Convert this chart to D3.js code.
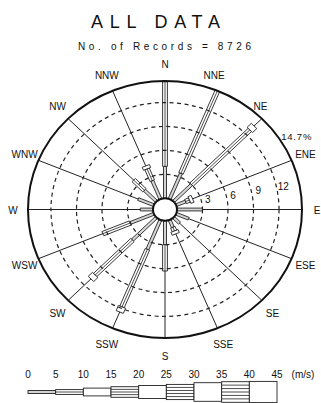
<!DOCTYPE html>
<html>
<head>
<meta charset="utf-8">
<script src="https://cdn.jsdelivr.net/npm/d3@7/dist/d3.min.js"></script>
<style>
  html, body { margin: 0; padding: 0; background: #fff; }
  svg { display: block; }
  text { font-family: "Liberation Sans", Arial, sans-serif; fill: #111; }
</style>
</head>
<body>
<svg id="chart" width="321" height="403"></svg>
<script>
// Wind rose: frequency (%) per direction, split by wind speed class
const directions = ["N","NNE","NE","ENE","E","ESE","SE","SSE","S","SSW","SW","WSW","W","WNW","NW","NNW"];
const speedClasses = ["0-5","5-10","10-15","15-20","20-25","25-30","30-35","35-40","40-45"];
const speedTicks = [0,5,10,15,20,25,30,35,40,45];
const ringValues = [3,6,9,12];
const maxPercent = 14.7;
const recordCount = 8726;

// percent of records in each speed class, one array per direction
const freq0to5   = [4.0, 3.5, 3.0, 1.2, 3.0, 1.6, 1.0, 1.0, 3.0, 4.0, 4.0, 3.0, 1.5, 2.0, 2.0, 2.5];
const freq5to10  = [10.6,11.2, 9.7, 0.5, 0.0, 0.0, 0.0, 0.5, 3.3, 7.8, 6.2, 3.5, 0.0, 0.0, 1.8, 1.6];
const freq10to15 = [0.0, 0.0, 0.7, 0.4, 0.0, 0.0, 0.0, 0.4, 0.0, 0.7, 0.7, 0.0, 0.0, 0.0, 0.0, 0.4];

const svg = d3.select("#chart");
const cx = 165, cy = 209.5, squash = 0.938;
const r = d3.scaleLinear().domain([0, maxPercent]).range([12, 137]);
const angle = d3.scalePoint().domain(directions).range([0, 2 * Math.PI * 15 / 16]);

// half widths and hatching of each speed class band
const halfW = [1.5, 2.4, 3.9, 5.3, 6.5, 7.6, 9.3, 10.3, 10.6];
const hatch = [0, 1, 0, 3, 0, 4, 0, 5, 0];
// small sideways nudges for a couple of compass labels
const labelShift = { NNE: -9, NE: -12 };

// point at radius rr along direction a, offset w sideways
function pt(rr, w, a) {
  const ux = Math.sin(a), uy = -Math.cos(a);
  const px = Math.cos(a), py = Math.sin(a);
  return [cx + rr * ux + w * px, cy + (rr * uy + w * py) * squash];
}

// spokes
const gSpokes = svg.append("g");
directions.forEach(d => {
  const a = angle(d);
  const p0 = pt(r(0), 0, a), p1 = pt(r(maxPercent), 0, a);
  gSpokes.append("line").attr("x1", p0[0]).attr("y1", p0[1]).attr("x2", p1[0]).attr("y2", p1[1])
    .attr("stroke", "#222").attr("stroke-width", 1);
});

// bars
const series = [freq0to5, freq5to10, freq10to15];
const gBars = svg.append("g");
directions.forEach((d, i) => {
  const a = angle(d);
  let acc = 0;
  series.forEach((s, k) => {
    const v = s[i];
    if (v <= 0) return;
    const r0 = r(acc), r1 = r(acc + v);
    acc += v;
    const w = halfW[k];
    const poly = [pt(r0, -w, a), pt(r1, -w, a), pt(r1, w, a), pt(r0, w, a)];
    gBars.append("polygon").attr("points", poly.map(p => p.join(",")).join(" "))
      .attr("fill", k === 0 ? "#d4d4d4" : "#fff").attr("stroke", "#222").attr("stroke-width", 0.9);
    for (let h = 1; h <= hatch[k]; h++) {
      const off = -w + 2 * w * h / (hatch[k] + 1);
      const q0 = pt(r0, off, a), q1 = pt(r1, off, a);
      gBars.append("line").attr("x1", q0[0]).attr("y1", q0[1]).attr("x2", q1[0]).attr("y2", q1[1])
        .attr("stroke", "#222").attr("stroke-width", 0.8);
    }
  });
});

// dashed frequency rings, outer circle and calm hub
const gRings = svg.append("g");
ringValues.forEach(v => {
  gRings.append("ellipse").attr("cx", cx).attr("cy", cy).attr("rx", r(v)).attr("ry", r(v) * squash)
    .attr("fill", "none").attr("stroke", "#222").attr("stroke-width", 1.2).attr("stroke-dasharray", "4,3.5");
});
gRings.append("ellipse").attr("cx", cx).attr("cy", cy).attr("rx", r(maxPercent)).attr("ry", r(maxPercent) * squash)
  .attr("fill", "none").attr("stroke", "#111").attr("stroke-width", 2);
gRings.append("ellipse").attr("cx", cx).attr("cy", cy).attr("rx", r(0)).attr("ry", r(0) * squash)
  .attr("fill", "#fff").attr("stroke", "#111").attr("stroke-width", 2);

// ring value labels along a ray just above east
const labA = angle("E") - 0.17;
ringValues.forEach(v => {
  const p = pt(r(v) + 6, 0, labA);
  svg.append("text").attr("x", p[0]).attr("y", p[1]).attr("font-size", 10).attr("text-anchor", "middle").text(v);
});
const pm = pt(r(maxPercent) + 2, 0, 0.99);
svg.append("text").attr("x", pm[0]).attr("y", pm[1] + 2).attr("font-size", 9.5)
  .attr("letter-spacing", 0.8).text(maxPercent + "%");

// direction labels
directions.forEach(d => {
  const a = angle(d);
  const x = cx + 152 * Math.sin(a) + (labelShift[d] || 0), y = cy - 146 * Math.cos(a);
  svg.append("text").attr("x", x).attr("y", y + 4).attr("font-size", 10).attr("text-anchor", "middle").text(d);
});

// titles
svg.append("text").attr("x", 91).attr("y", 28).attr("font-size", 18)
  .attr("textLength", 129).attr("lengthAdjust", "spacing").text("ALL DATA");
svg.append("text").attr("x", 78).attr("y", 50).attr("font-size", 10)
  .attr("textLength", 173).attr("lengthAdjust", "spacing").text("No. of Records = " + recordCount);

// speed legend
const lx = d3.scaleLinear().domain([0, 45]).range([28, 277]);
const ly = 392;
speedTicks.forEach(t => {
  svg.append("text").attr("x", lx(t)).attr("y", 378).attr("font-size", 10).attr("text-anchor", "middle").text(t);
});
svg.append("text").attr("x", 303).attr("y", 378).attr("font-size", 10).attr("text-anchor", "middle").text("(m/s)");
speedClasses.forEach((c, k) => {
  const x0 = lx(speedTicks[k]), x1 = lx(speedTicks[k + 1]), w = halfW[k];
  svg.append("rect").attr("x", x0).attr("y", ly - w).attr("width", x1 - x0).attr("height", 2 * w)
    .attr("fill", k === 0 ? "#d4d4d4" : "#fff").attr("stroke", "#222").attr("stroke-width", 0.9);
  for (let h = 1; h <= hatch[k]; h++) {
    const yy = ly - w + 2 * w * h / (hatch[k] + 1);
    svg.append("line").attr("x1", x0).attr("x2", x1).attr("y1", yy).attr("y2", yy)
      .attr("stroke", "#222").attr("stroke-width", 0.8);
  }
});
</script>
</body>
</html>
